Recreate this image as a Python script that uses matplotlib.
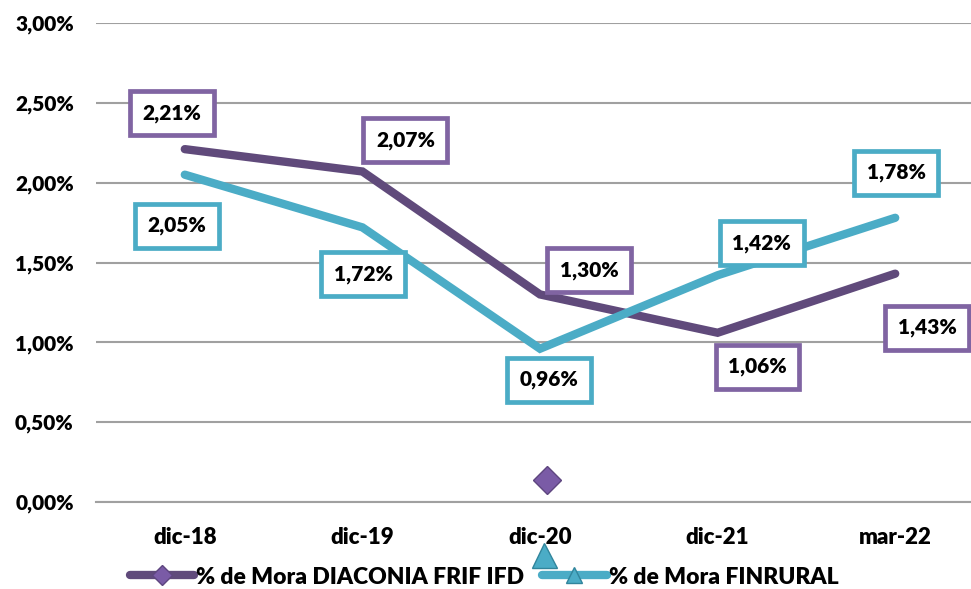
import matplotlib.pyplot as plt
import numpy as np

categories = ["dic-18", "dic-19", "dic-20", "dic-21", "mar-22"]
diaconia = [2.21, 2.07, 1.30, 1.06, 1.43]
finrural = [2.05, 1.72, 0.96, 1.42, 1.78]
yticks = [0, 0.5, 1.0, 1.5, 2.0, 2.5, 3.0]

# label offsets (pixels) from each point
off_d = [(-13, 36), (43, 31), (49, 24), (40, -34), (32, -54)]
off_f = [(-8, -51), (1, -47), (9, -31), (44, 32), (1, 45)]

purple_line = "#604A7B"
purple_box = "#8064A2"
teal = "#4BACC6"

plt.rcParams['font.family'] = ['Lato', 'DejaVu Sans']
W = 'heavy'

fig = plt.figure(figsize=(9.71, 5.89), dpi=100)
ax = fig.add_axes([96/971, 87/589, 888/971, 479/589])

x = np.arange(len(categories))
ax.plot(x, diaconia, color=purple_line, lw=6, solid_capstyle='round', solid_joinstyle='miter', zorder=3)
ax.plot(x, finrural, color=teal, lw=6, solid_capstyle='round', solid_joinstyle='miter', zorder=3)

def fmt(v):
    return f"{v:.2f}%".replace(".", ",")

for xi, v, o in zip(x, diaconia, off_d):
    ax.annotate(fmt(v), (xi, v), xytext=o, textcoords='offset pixels',
                ha='center', va='center', fontsize=15, fontweight=W, zorder=5,
                bbox=dict(boxstyle='square,pad=0.6', fc='white', ec=purple_box, lw=3.4))
for xi, v, o in zip(x, finrural, off_f):
    ax.annotate(fmt(v), (xi, v), xytext=o, textcoords='offset pixels',
                ha='center', va='center', fontsize=15, fontweight=W, zorder=5,
                bbox=dict(boxstyle='square,pad=0.6', fc='white', ec=teal, lw=3.4))

# stray markers
ax.plot([2.04], [0.14], marker='D', ms=14, color="#7A5BA6", mec="#5E467F", clip_on=False, zorder=4)
ax.plot([2.02], [-0.33], marker='^', ms=18, color=teal, mec="#31859C", clip_on=False, zorder=6)

ax.set_xlim(-0.5, 4.5)
ax.set_ylim(0, 3.0)
ax.set_yticks(yticks)
ax.set_yticklabels([fmt(v) for v in yticks], fontsize=15, fontweight=W)
ax.set_xticks(x)
ax.set_xticklabels(categories, fontsize=16, fontweight=W)
ax.tick_params(length=0, axis='y', pad=16)
ax.tick_params(length=0, axis='x', pad=18)
ax.grid(axis='y', color='#A0A0A0', lw=1.5)
ax.set_axisbelow(True)
for s in ['top', 'right', 'left']:
    ax.spines[s].set_visible(False)
ax.spines['bottom'].set_color('#A0A0A0')
ax.spines['bottom'].set_linewidth(1.5)

h1, = ax.plot([], [], color=purple_line, lw=6, marker='D', ms=10, mfc="#7A5BA6", mec="#5E467F",
              label="% de Mora DIACONIA FRIF IFD", solid_capstyle='round')
h2, = ax.plot([], [], color=teal, lw=6, marker='^', ms=12, mfc=teal, mec="#31859C",
              label="% de Mora FINRURAL", solid_capstyle='round')
fig.legend(handles=[h1, h2], loc='center', bbox_to_anchor=(484/971, 1 - 577/589), ncol=2,
           frameon=False, prop=dict(size=16.5, weight=W), handlelength=2.8,
           handletextpad=0.1, columnspacing=0.8, borderpad=0)

fig.savefig("out.png", dpi=100)
